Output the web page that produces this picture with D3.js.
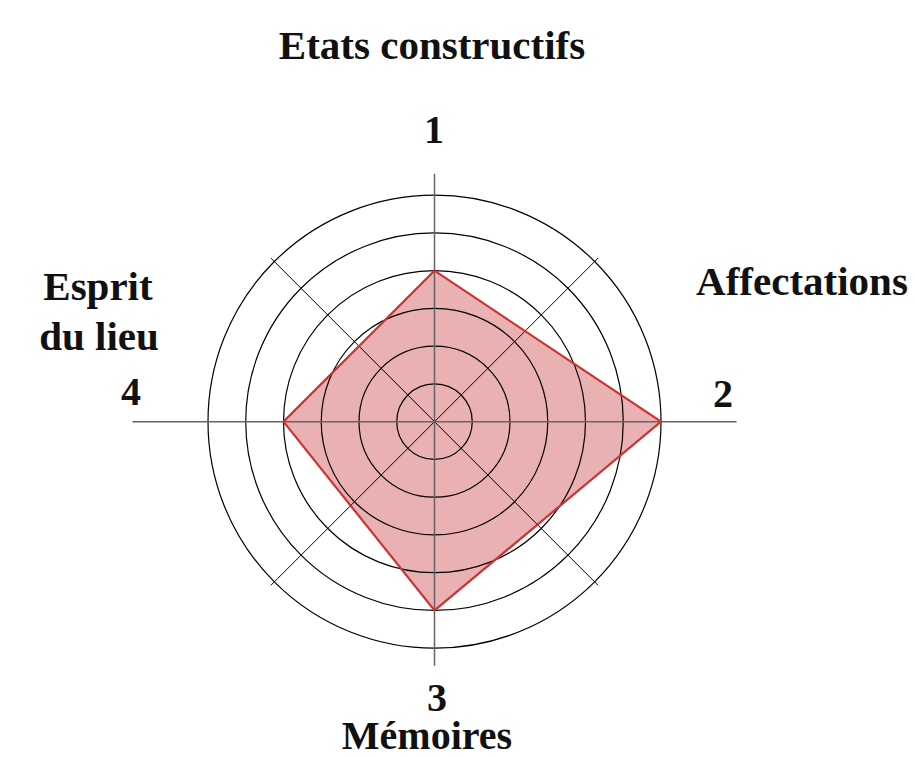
<!DOCTYPE html>
<html>
<head>
<meta charset="utf-8">
<script src="https://cdn.jsdelivr.net/npm/d3@7"></script>
<style>
  body { margin: 0; background: #fff; }
  svg text { font-family: "Liberation Serif", "DejaVu Serif", serif; font-weight: bold; fill: #111; }
</style>
</head>
<body>
<svg class="chart" width="915" height="757"></svg>
<script>
// axes of the radar, clockwise from the top
const axisNumbers = ["1", "2", "3", "4"]
const axisNames = ["Etats constructifs", "Affectations", "Mémoires", "Esprit du lieu"]
const values = [4, 6, 5, 4]
const ringLevels = [1, 2, 3, 4, 5, 6]

var chart = d3.select(".chart"),
    cx = 434.5,
    cy = 421.7,
    radius = 226.5

var r = d3.scaleLinear().domain([0, 6]).range([0, radius])
var angle = d3.scaleLinear().domain([0, axisNumbers.length]).range([0, 2 * Math.PI])

var g = chart.append("g")
  .attr("transform", "translate(" + cx + "," + cy + ")")

var radar = d3.lineRadial()
  .angle(function(d, i) { return angle(i) })
  .radius(function(d) { return r(d) })
  .curve(d3.curveLinearClosed)

// filled area first, grid drawn over it
g.append("path")
  .datum(values)
  .attr("d", radar)
  .attr("fill", "#c83c3c")
  .attr("fill-opacity", 0.4)
  .attr("stroke", "none")

g.selectAll(".ring")
    .data(ringLevels)
  .enter().append("circle")
    .attr("class", "ring")
    .attr("r", function(d) { return r(d) })
    .attr("fill", "none")
    .attr("stroke", "#000")
    .attr("stroke-width", 1.2)

// diagonal spokes
var diag = [45, 135, 225, 315]
g.selectAll(".diag")
    .data(diag)
  .enter().append("line")
    .attr("class", "diag")
    .attr("x1", 0).attr("y1", 0)
    .attr("x2", function(d) { return Math.sin(d * Math.PI / 180) * (radius + 5) })
    .attr("y2", function(d) { return -Math.cos(d * Math.PI / 180) * (radius + 5) })
    .attr("stroke", "#000")
    .attr("stroke-width", 1)

// main axes
g.append("line")
  .attr("x1", 0).attr("x2", 0)
  .attr("y1", -248).attr("y2", 244)
  .attr("stroke", "#666")
  .attr("stroke-width", 1.5)

g.append("line")
  .attr("x1", -302).attr("x2", 302)
  .attr("y1", 0).attr("y2", 0)
  .attr("stroke", "#666")
  .attr("stroke-width", 1.5)

g.append("path")
  .datum(values)
  .attr("d", radar)
  .attr("fill", "none")
  .attr("stroke", "#cc3333")
  .attr("stroke-width", 2.2)
  .attr("stroke-linejoin", "miter")

// labels
var numPos = [[434, 143], [723, 407], [437, 711], [131, 405]]
chart.selectAll(".num")
    .data(axisNumbers)
  .enter().append("text")
    .attr("class", "num")
    .attr("x", function(d, i) { return numPos[i][0] })
    .attr("y", function(d, i) { return numPos[i][1] })
    .attr("text-anchor", "middle")
    .style("font-size", "40px")
    .text(function(d) { return d })

var namePos = [[432, 59], [802, 295], [427, 749], [98, 300]]
chart.selectAll(".name")
    .data(axisNames)
  .enter().append("text")
    .attr("class", "name")
    .attr("x", function(d, i) { return namePos[i][0] })
    .attr("y", function(d, i) { return namePos[i][1] })
    .attr("text-anchor", "middle")
    .style("font-size", function(d, i) { return i === 2 ? "40px" : "41px" })
    .each(function(d, i) {
      var t = d3.select(this)
      if (i === 3) {
        t.append("tspan").attr("x", namePos[i][0]).text("Esprit")
        t.append("tspan").attr("x", namePos[i][0] + 1).attr("dy", 50).text("du lieu")
      } else {
        t.text(d)
      }
    })
</script>
</body>
</html>
